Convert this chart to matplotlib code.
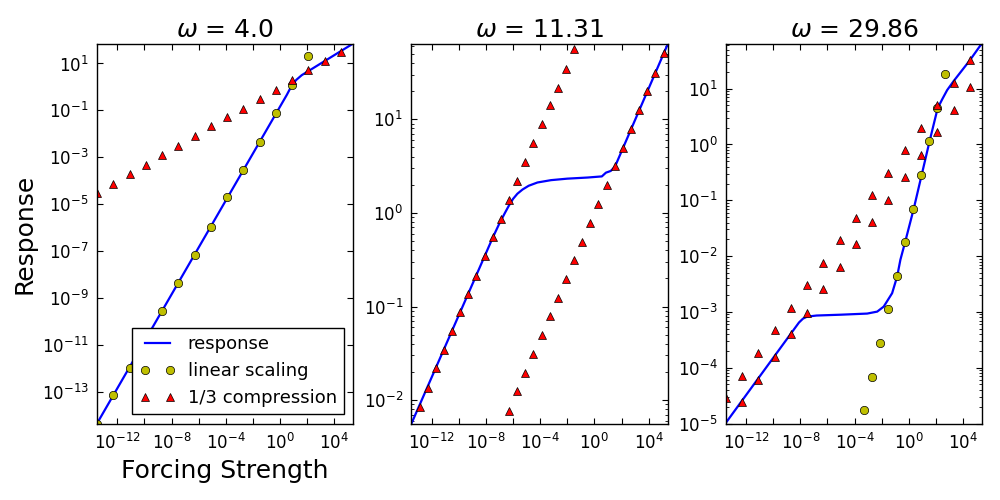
import numpy as np
import matplotlib
matplotlib.use("Agg")
import matplotlib.pyplot as plt

# all values are log10 exponents
omegas = ["4.0", "11.31", "29.86"]

# panel 1, omega = 4.0
p1_line_x = [-13.5, 0.5, 0.9, 1.2, 1.6, 5.4]
p1_line_y = [-14.34, -0.34, 0.1, 0.3, 0.5, 1.85]
p1_circ_x = [-13.5, -12.3, -11.1, -9.9, -8.7, -7.5, -6.3, -5.1, -3.9, -2.7,
             -1.5, -0.3, 0.9, 2.1]
p1_circ_y = [-14.34, -13.14, -11.96, -10.76, -9.53, -8.34, -7.15, -5.95, -4.71,
             -3.52, -2.34, -1.09, 0.09, 1.31]
p1_tri_x = [-13.5, -12.3, -11.1, -9.9, -8.7, -7.5, -6.3, -5.1, -3.9, -2.7,
            -1.5, -0.3, 0.9, 2.1, 3.3, 4.5]
p1_tri_y = [-4.54, -4.12, -3.73, -3.31, -2.91, -2.50, -2.11, -1.67, -1.30, -0.92,
            -0.51, -0.11, 0.29, 0.70, 1.11, 1.49]

# panel 2, omega = 11.31
p2_line_x = [-13.5, -7.48, -7.0, -6.6, -6.3, -6.0, -5.68, -5.3, -4.85, -4.2, -3.2,
             -2.0, -0.5, 0.55, 0.7, 0.85, 1.2, 1.51, 5.42]
p2_line_y = [-2.252, -0.258, -0.11, 0.0, 0.08, 0.15, 0.205, 0.25, 0.29, 0.325, 0.35,
             0.366, 0.378, 0.39, 0.41, 0.43, 0.448, 0.492, 1.807]
p2_tri_a_x = [-12.9, -12.3, -11.7, -11.1, -10.5, -9.9, -9.3, -8.7, -8.1, -7.5,
              -6.9, -6.3, -5.7, -5.1, -4.5, -3.9, -3.3, -2.7, -2.1, -1.5]
p2_tri_a_y = [-2.070, -1.866, -1.662, -1.465, -1.266, -1.062, -0.869, -0.669,
              -0.465, -0.258, -0.061, 0.143, 0.346, 0.539, 0.743, 0.946, 1.150,
              1.339, 1.542, 1.750]
p2_tri_b_x = [-6.3, -5.7, -5.1, -4.5, -3.9, -3.3, -2.7, -2.1, -1.5, -0.9,
              -0.3, 0.3, 0.9, 1.5, 2.1, 2.7, 3.3, 3.9, 4.5, 5.1]
p2_tri_b_y = [-2.113, -1.905, -1.712, -1.512, -1.304, -1.105, -0.908, -0.704,
              -0.505, -0.312, -0.104, 0.100, 0.303, 0.503, 0.696, 0.899, 1.100,
              1.300, 1.499, 1.707]

# panel 3, omega = 29.86
p3_line_x = [-13.5, -8.73, -8.4, -8.1, -7.8, -7.5, -6.8, -5.0, -3.07, -2.33,
             -1.85, -1.23, -0.86, -0.62, -0.27, 0.36, 0.95, 1.54, 2.13, 2.46,
             2.83, 3.31, 4.5, 5.43]
p3_line_y = [-4.99, -3.40, -3.29, -3.19, -3.12, -3.085, -3.065, -3.05, -3.03,
             -2.995, -2.905, -2.665, -2.366, -2.066, -1.748, -1.156, -0.545,
             0.066, 0.651, 0.808, 0.975, 1.137, 1.508, 1.826]
p3_circ_x = [-3.3, -2.7, -2.1, -1.5, -0.9, -0.3, 0.3, 0.9, 1.5, 2.1, 2.7, 3.3]
p3_circ_y = [-4.766, -4.173, -3.563, -2.952, -2.359, -1.748, -1.156, -0.545,
             0.066, 0.651, 1.269, 1.87]
p3_tri_a_x = [-13.5, -12.3, -11.1, -9.9, -8.7, -7.5, -6.3, -5.1, -3.9, -2.7,
              -1.5, -0.3, 0.9, 2.1, 3.3, 4.5]
p3_tri_a_y = [-4.551, -4.145, -3.731, -3.333, -2.923, -2.524, -2.115, -1.711,
              -1.317, -0.904, -0.509, -0.103, 0.299, 0.700, 1.108, 1.508]
p3_tri_b_x = [-12.3, -11.1, -9.9, -8.7, -7.5, -6.3, -5.1, -3.9, -2.7,
              -1.5, -0.3, 0.9, 2.1, 3.3, 4.5]
p3_tri_b_y = [-4.612, -4.219, -3.803, -3.401, -3.013, -2.593, -2.197, -1.784,
              -1.389, -1.001, -0.588, -0.180, 0.228, 0.616, 1.036]

x_tick_exp = [-12, -10, -8, -6, -4, -2, 0, 2, 4]
x_label_exp = [-12, -8, -4, 0, 4]
p1_ytick_exp = [-13, -11, -9, -7, -5, -3, -1, 1]


def e(vals):
    return 10.0 ** np.array(vals)


plt.rcParams.update({
    "font.family": "DejaVu Sans",
    "font.size": 12,
    "xtick.direction": "in",
    "ytick.direction": "in",
    "xtick.top": True,
    "ytick.right": True,
    "xtick.major.size": 4,
    "ytick.major.size": 4,
    "xtick.minor.size": 2,
    "ytick.minor.size": 2,
    "xtick.major.pad": 7,
    "ytick.major.pad": 6,
    "axes.linewidth": 1.0,
})

fig, axes = plt.subplots(1, 3, figsize=(10, 5), dpi=100)
fig.subplots_adjust(left=0.097, right=0.982, bottom=0.153, top=0.913, wspace=0.227)

circ_style = dict(ls="none", marker="o", ms=6, mfc="#bfbf00", mec="black", mew=0.5)
tri_style = dict(ls="none", marker="^", ms=6, mfc="red", mec="black", mew=0.5)

panels = [
    (p1_line_x, p1_line_y, [(p1_circ_x, p1_circ_y)], [(p1_tri_x, p1_tri_y)], (-14.34, 1.85)),
    (p2_line_x, p2_line_y, [], [(p2_tri_a_x, p2_tri_a_y), (p2_tri_b_x, p2_tri_b_y)], (-2.25, 1.81)),
    (p3_line_x, p3_line_y, [(p3_circ_x, p3_circ_y)],
     [(p3_tri_a_x, p3_tri_a_y), (p3_tri_b_x, p3_tri_b_y)], (-5.0, 1.81)),
]

for ax, om, (lx, ly, circs, tris, ylim) in zip(axes, omegas, panels):
    ax.plot(e(lx), e(ly), color="blue", lw=1.6, label="response")
    for i, (cx, cy) in enumerate(circs):
        ax.plot(e(cx), e(cy), label="linear scaling" if i == 0 else None, **circ_style)
    for i, (tx, ty) in enumerate(tris):
        ax.plot(e(tx), e(ty), label="1/3 compression" if i == 0 else None, **tri_style)
    ax.set_xscale("log")
    ax.set_yscale("log")
    ax.set_xlim(10 ** -13.5, 10 ** 5.4)
    ax.set_ylim(10 ** ylim[0], 10 ** ylim[1])
    labels = [r"$\mathdefault{10^{%d}}$" % v if v in x_label_exp else "" for v in x_tick_exp]
    ax.set_xticks(e(x_tick_exp), labels)
    ax.xaxis.set_minor_locator(matplotlib.ticker.NullLocator())
    ax.set_title(r"$\omega$ = " + om, fontsize=18, pad=5)

axes[0].set_yticks(e(p1_ytick_exp))
axes[0].yaxis.set_minor_locator(matplotlib.ticker.NullLocator())
axes[0].set_xlabel("Forcing Strength", fontsize=18)
axes[0].set_ylabel("Response", fontsize=18)

leg = axes[0].legend(loc="lower right", fontsize=13, numpoints=2, handlelength=2.0,
                     handletextpad=0.7, fancybox=False, framealpha=1, borderaxespad=0.5)
leg.get_frame().set_edgecolor("black")

fig.savefig("out.png", dpi=100)
